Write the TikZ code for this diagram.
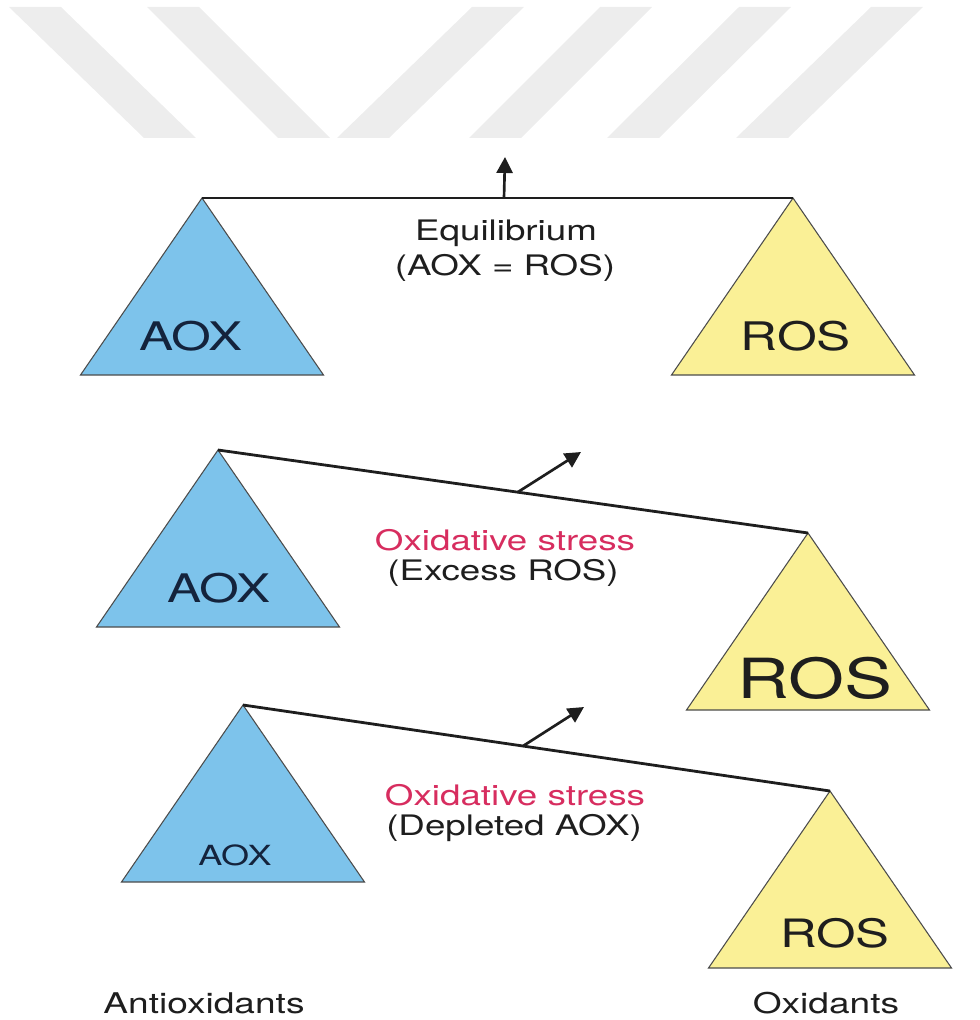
\documentclass[tikz,border=0pt]{standalone}
\usepackage{fontspec}
\setmainfont{TeX Gyre Heros}
\newfontfamily\lblfont[FakeStretch=1.3]{TeX Gyre Heros}
\usetikzlibrary{arrows.meta, calc}
\definecolor{aoxblue}{RGB}{125,195,235}
\definecolor{rosyellow}{RGB}{250,240,150}
\definecolor{stressred}{RGB}{215,45,95}
\definecolor{inkgray}{RGB}{30,30,30}
\definecolor{aoxink}{RGB}{20,35,60}
\newcommand\lblsize[1]{\lblfont\fontsize{#1}{#1}\selectfont}
\tikzset{
  aoxtri/.style={draw=black!70, line width=0.8pt, fill=aoxblue},
  rostri/.style={draw=black!70, line width=0.8pt, fill=rosyellow},
  beam/.style={line width=2.1pt, draw=inkgray},
  arr/.style={-{Triangle[length=12pt, width=12pt]}, line width=2pt, draw=inkgray},
  lbl/.style={text=inkgray, anchor=base, inner sep=0pt},
  wmark/.style={fill=black!7},
}
\begin{document}
\begin{tikzpicture}[x=0.75pt, y=-0.75pt]
  \useasboundingbox (0,0) rectangle (979,1020);
  % watermark stripes
  \foreach \t/\b in {9/144, 147/278, 472/337, 600/469, 739/607, 871/736}
    \fill[wmark] (\t,7) -- ++(52,0) -- (\b+52,138) -- (\b,138) -- cycle;

  % apexes of the scale pans
  \coordinate (aox1) at (202,198);
  \coordinate (ros1) at (793,198);
  \coordinate (aox2) at (218,450);
  \coordinate (ros2) at (808,533);
  \coordinate (aox3) at (243,705);
  \coordinate (ros3) at (830,791);

  \foreach \p in {aox1, aox2, aox3}
    \draw[aoxtri] (\p) -- ++(-121.5,177) -- ++(243,0) -- cycle;
  \foreach \p in {ros1, ros2, ros3}
    \draw[rostri] (\p) -- ++(-121.5,177) -- ++(243,0) -- cycle;

  % beams and tilt arrows
  \draw[beam] (aox1) -- (ros1);
  \draw[beam] (aox2) -- (ros2);
  \draw[beam] (aox3) -- (ros3);
  \coordinate (piv1) at ($(aox1)!0.511!(ros1)$);
  \coordinate (piv2) at ($(aox2)!0.508!(ros2)$);
  \coordinate (piv3) at ($(aox3)!0.477!(ros3)$);
  \coordinate (tip1) at (505,157);
  \coordinate (tip2) at (581,452);
  \coordinate (tip3) at (584,707);
  \draw[arr] (piv1) -- (tip1);
  \draw[arr] (piv2) -- (tip2);
  \draw[arr] (piv3) -- (tip3);

  % pan labels
  \node[lbl, text=aoxink, font=\lblsize{29.5}] (aoxt1) at (191,350) {AOX};
  \node[lbl, font=\lblsize{29.5}] (rost1) at (796,350) {ROS};
  \node[lbl, text=aoxink, font=\lblsize{29.5}] (aoxt2) at (219,602) {AOX};
  \node[lbl, font=\lblsize{41.5}] (rost2) at (815,698) {ROS};
  \node[lbl, text=aoxink, font=\lblsize{20.8}] (aoxt3) at (235,865) {AOX};
  \node[lbl, font=\lblsize{29.3}] (rost3) at (835,947) {ROS};

  % state captions
  \node[lbl, font=\lblsize{21.2}] (eq) at (506,240) {Equilibrium};
  \node[lbl, font=\lblsize{21.2}] (eqsub) at (505,275) {(AOX = ROS)};
  \node[lbl, font=\lblsize{21.2}, text=stressred] (st2) at (505,550) {Oxidative stress};
  \node[lbl, font=\lblsize{21.2}] (st2sub) at (503,580) {(Excess ROS)};
  \node[lbl, font=\lblsize{21.2}, text=stressred] (st3) at (515,805) {Oxidative stress};
  \node[lbl, font=\lblsize{21.2}] (st3sub) at (514,835) {(Depleted AOX)};

  \node[lbl, font=\lblsize{21.4}] (anti) at (204,1013) {Antioxidants};
  \node[lbl, font=\lblsize{21.4}] (oxi) at (826,1013) {Oxidants};
\end{tikzpicture}
\end{document}
